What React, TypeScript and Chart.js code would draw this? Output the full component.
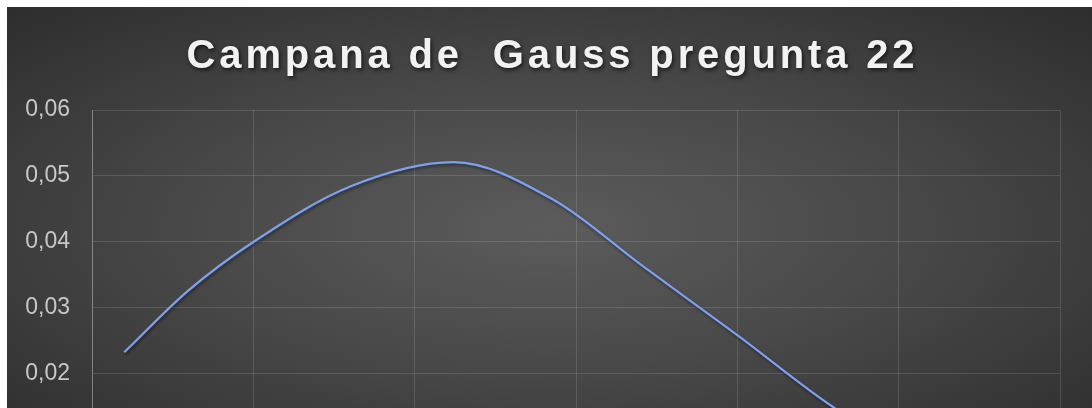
import React, { useEffect, useRef } from "react";
import { Chart, registerables } from "chart.js";

Chart.register(...registerables);

// ---- data ----
const TITLE = "Campana de  Gauss pregunta 22";
const xValues = [1, 3, 5, 8, 11.2, 14.3, 17, 20, 23, 26];
const yValues = [0.0233, 0.0327, 0.04, 0.0484, 0.0521, 0.0464, 0.0366, 0.0259, 0.0149, 0.0065];
const yTickValues = [0.02, 0.03, 0.04, 0.05, 0.06];
const xTickValues = [0, 5, 10, 15, 20, 25, 30];
const X_MIN = 0;
const X_MAX = 30;
const Y_MIN = 0.014848;
const Y_MAX = 0.06;

const FONT = '"Liberation Sans", Arial, Helvetica, sans-serif';

const titlePlugin = {
  id: "shadowTitle",
  afterDraw(chart: any) {
    const ctx = chart.ctx as CanvasRenderingContext2D;
    ctx.save();
    ctx.font = `bold 40px ${FONT}`;
    (ctx as any).letterSpacing = "3.85px";
    ctx.fillStyle = "#f2f2f2";
    ctx.textAlign = "center";
    ctx.textBaseline = "alphabetic";
    ctx.shadowColor = "rgba(0,0,0,0.65)";
    ctx.shadowBlur = 4;
    ctx.shadowOffsetX = 1.5;
    ctx.shadowOffsetY = 2;
    ctx.fillText(TITLE, 545.5, 60.5);
    ctx.restore();
  },
};

const lineShadowPlugin = {
  id: "lineShadow",
  beforeDatasetDraw(chart: any) {
    const ctx = chart.ctx as CanvasRenderingContext2D;
    ctx.save();
    ctx.shadowColor = "rgba(0,0,0,0.45)";
    ctx.shadowBlur = 3;
    ctx.shadowOffsetX = 1;
    ctx.shadowOffsetY = 2;
  },
  afterDatasetDraw(chart: any) {
    chart.ctx.restore();
  },
};

export default function App() {
  const canvasRef = useRef<HTMLCanvasElement | null>(null);

  useEffect(() => {
    if (!canvasRef.current) return;
    const chart = new Chart(canvasRef.current, {
      type: "line",
      data: {
        datasets: [
          {
            data: xValues.map((x, i) => ({ x, y: yValues[i] })),
            borderColor: "#7da0f0",
            borderWidth: 2.25,
            pointRadius: 0,
            cubicInterpolationMode: "monotone",
            fill: false,
          },
        ],
      },
      options: {
        animation: false,
        responsive: false,
        devicePixelRatio: 1,
        events: [],
        layout: { padding: { top: 103, right: 32, bottom: 0, left: 0 } },
        plugins: {
          legend: { display: false },
          title: { display: false },
          tooltip: { enabled: false },
        },
        scales: {
          x: {
            type: "linear",
            min: X_MIN,
            max: X_MAX,
            afterBuildTicks: (s: any) => {
              s.ticks = xTickValues.map((v) => ({ value: v }));
            },
            afterFit: (s: any) => {
              s.height = 0;
            },
            ticks: { display: false },
            grid: { color: "rgba(255,255,255,0.13)", lineWidth: 1, drawTicks: false },
            border: { display: false },
          },
          y: {
            type: "linear",
            min: Y_MIN,
            max: Y_MAX,
            afterBuildTicks: (s: any) => {
              s.ticks = yTickValues.map((v) => ({ value: v }));
            },
            afterFit: (s: any) => {
              s.width = 85;
              s.paddingTop = 0;
              s.paddingBottom = 0;
            },
            ticks: {
              padding: 22,
              color: "#c8c8c8",
              font: { family: FONT, size: 23 },
              callback: (v: any) => Number(v).toFixed(2).replace(".", ","),
            },
            grid: { color: "rgba(255,255,255,0.13)", lineWidth: 1, drawTicks: false },
            border: { display: true, color: "rgba(255,255,255,0.28)", width: 1 },
          },
        },
      },
      plugins: [lineShadowPlugin, titlePlugin],
    } as any);
    return () => chart.destroy();
  }, []);

  return (
    <div
      style={{
        position: "fixed",
        left: 7,
        top: 7,
        width: 1085,
        height: 401,
        background:
          "radial-gradient(ellipse 75% 80% at 50% 55%, #5c5c5c 0%, #484848 45%, #2b2b2b 100%)",
        overflow: "hidden",
      }}
    >
      <canvas ref={canvasRef} width={1085} height={401} style={{ display: "block" }} />
    </div>
  );
}
